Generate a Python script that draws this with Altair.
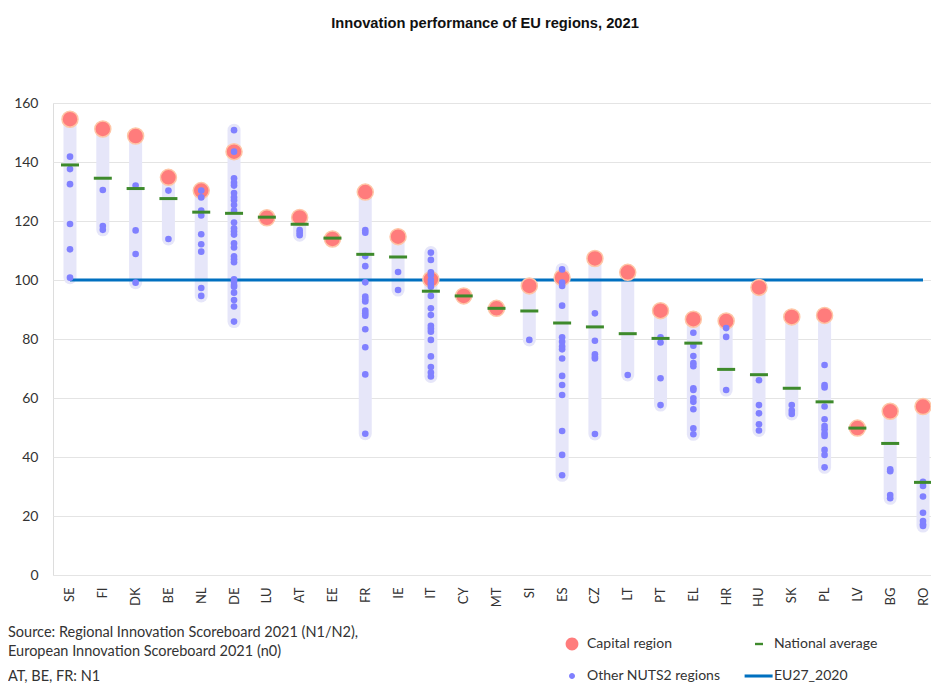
import altair as alt
import pandas as pd

countries = ["SE", "FI", "DK", "BE", "NL", "DE", "LU", "AT", "EE", "FR", "IE", "IT", "CY", "MT",
             "SI", "ES", "CZ", "LT", "PT", "EL", "HR", "HU", "SK", "PL", "LV", "BG", "RO"]

capital = [154.5, 151.2, 148.8, 134.8, 130.3, 143.5, 121.1, 121.2, 113.9, 129.8, 114.7, 100.2, 94.6, 90.4,
           98.0, 100.8, 107.3, 102.6, 89.6, 86.7, 86.1, 97.5, 87.5, 88.0, 49.8, 55.5, 57.1]

national_avg = [139.0, 134.5, 131.0, 127.6, 123.0, 122.6, 121.3, 118.9, 114.2, 108.7, 107.8, 96.2, 94.6, 90.4,
                89.5, 85.4, 84.1, 81.8, 80.2, 78.6, 69.7, 67.9, 63.3, 58.7, 49.8, 44.6, 31.4]

other_SE = [141.8, 137.6, 132.5, 119.0, 110.4, 100.8]
other_FI = [130.5, 118.3, 117.0]
other_DK = [132.0, 116.8, 108.8, 99.1]
other_BE = [130.3, 113.9]
other_NL = [130.3, 128.0, 123.5, 121.9, 115.5, 112.1, 109.6, 97.3, 94.6]
other_DE = [150.8, 143.5, 134.5, 133.0, 132.0, 129.5, 128.0, 127.0, 125.4, 123.5, 119.5, 117.5, 116.4,
            115.4, 112.4, 111.0, 108.0, 107.0, 106.0, 100.2, 99.4, 98.3, 97.7, 95.7, 93.2, 91.0, 85.9]
other_LU = []
other_AT = [116.9, 116.0, 115.2]
other_EE = []
other_FR = [116.9, 116.0, 108.1, 104.7, 99.2, 94.4, 93.5, 92.7, 89.6, 88.7, 87.9, 83.3, 77.2, 68.0, 47.9]
other_IE = [102.7, 96.6]
other_IT = [109.3, 106.8, 102.6, 101.7, 100.0, 98.8, 97.7, 94.6, 90.4, 88.1, 84.5, 83.5, 82.5, 79.7,
            74.1, 70.5, 68.6, 67.3]
other_CY = []
other_MT = []
other_SI = [79.7]
other_ES = [103.6, 99.1, 98.0, 91.3, 80.6, 79.1, 77.5, 76.5, 73.4, 67.5, 64.4, 61.0, 48.8, 40.7, 33.8]
other_CZ = [88.7, 79.4, 74.8, 74.0, 73.4, 47.8]
other_LT = [67.8]
other_PT = [80.6, 78.8, 66.7, 57.6]
other_EL = [82.1, 77.7, 74.2, 71.8, 70.8, 63.3, 62.7, 59.9, 58.7, 56.2, 49.7, 47.7]
other_HR = [83.7, 80.7, 62.7]
other_HU = [66.0, 57.6, 54.8, 51.1, 49.0]
other_SK = [57.6, 55.7, 54.6]
other_PL = [71.2, 64.4, 63.6, 57.1, 52.8, 50.5, 49.4, 48.0, 47.1, 42.4, 40.7, 36.5]
other_LV = []
other_BG = [35.8, 35.2, 27.1, 26.0]
other_RO = [31.6, 30.2, 26.6, 21.1, 18.3, 17.2, 16.6]

eu_level = [100]

y_ticks = [0, 20, 40, 60, 80, 100, 120, 140, 160]

# column-major legend order: col 1 = Capital / Other, col 2 = National / EU
legend_labels = ["Capital region", "Other NUTS2 regions", "National average", "EU27_2020"]
legend_colors = ["#FF7C7C", "#8080FF", "#3E8A2C", "#0070C0"]
legend_shapes = [
    "M-1.6,0A1.6,1.6,0,1,0,1.6,0A1.6,1.6,0,1,0,-1.6,0Z",
    "M-0.75,0A0.75,0.75,0,1,0,0.75,0A0.75,0.75,0,1,0,-0.75,0Z",
    "M-1,-0.3H1V0.3H-1Z",
    "M-3.6,-0.38H3.4V0.38H-3.6Z",
]

source_lines = ["Source: Regional Innovation Scoreboard 2021 (N1/N2),",
                "European Innovation Scoreboard 2021 (n0)",
                "AT, BE, FR: N1"]

title_text = "Innovation performance of EU regions, 2021"

others = {
    "SE": other_SE, "FI": other_FI, "DK": other_DK, "BE": other_BE, "NL": other_NL, "DE": other_DE,
    "LU": other_LU, "AT": other_AT, "EE": other_EE, "FR": other_FR, "IE": other_IE, "IT": other_IT,
    "CY": other_CY, "MT": other_MT, "SI": other_SI, "ES": other_ES, "CZ": other_CZ, "LT": other_LT,
    "PT": other_PT, "EL": other_EL, "HR": other_HR, "HU": other_HU, "SK": other_SK, "PL": other_PL,
    "LV": other_LV, "BG": other_BG, "RO": other_RO,
}

rows = []
for c, v in zip(countries, capital):
    rows.append({"country": c, "value": v, "kind": "capital"})
for c, v in zip(countries, national_avg):
    rows.append({"country": c, "value": v, "kind": "avg"})
for c in countries:
    for v in others[c]:
        rows.append({"country": c, "value": v, "kind": "other"})
df = pd.DataFrame(rows)

FONT = "Lato"
TXT = "#333333"

x_scale = alt.Scale(domain=countries, type="point", padding=0.381, align=0.68)
y_scale = alt.Scale(domain=[0, 160], nice=False)

x_axis = alt.Axis(title=None, labelAngle=-90, domain=False, ticks=False, grid=False,
                  labelPadding=12, labelFont=FONT, labelFontSize=13, labelColor=TXT)
y_axis = alt.Axis(title=None, values=y_ticks, domain=False, ticks=False, grid=True,
                  gridColor="#E4E4E4", gridWidth=1, labelPadding=15, labelFont=FONT,
                  labelFontSize=14, labelColor=TXT)

X = alt.X("country:N", scale=x_scale, sort=countries, axis=x_axis)

base = alt.Chart(df)

bands = base.transform_filter("datum.kind != 'avg'").mark_rule(
    strokeWidth=13, strokeCap="round", color="#E6E6F9"
).encode(
    x=X,
    y=alt.Y("min(value):Q", scale=y_scale, axis=y_axis),
    y2=alt.Y2("max(value):Q"),
)

eu_line = alt.Chart(pd.DataFrame({"v": eu_level})).mark_rule(
    color="#0070C0", strokeWidth=3
).encode(
    x=alt.datum(countries[0]),
    x2=alt.datum(countries[-1]),
    y=alt.Y("v:Q", scale=y_scale),
)

cap_pts = base.transform_filter("datum.kind == 'capital'").mark_point(
    filled=True, size=256, color="#FF7C7C", stroke="#FFC6A6", strokeWidth=1.5, opacity=1
).encode(x=X, y=alt.Y("value:Q", scale=y_scale))

other_pts = base.transform_filter("datum.kind == 'other'").mark_point(
    filled=True, size=44, color="#8080FF", opacity=1
).encode(x=X, y=alt.Y("value:Q", scale=y_scale))

avg_ticks = base.transform_filter("datum.kind == 'avg'").mark_tick(
    color="#3E8A2C", size=18, thickness=3, opacity=1
).encode(x=X, y=alt.Y("value:Q", scale=y_scale))

leg = alt.Legend(title=None, orient="none", legendX=512, legendY=534, columns=2,
                 columnPadding=23, rowPadding=18, labelFont=FONT, labelFontSize=14,
                 labelColor=TXT, labelOffset=8, symbolOpacity=1, symbolSize=64,
                 symbolStrokeWidth=0, padding=0)

legend_layer = alt.Chart(pd.DataFrame({"series": legend_labels})).mark_point(
    filled=True, size=64, opacity=0
).encode(
    color=alt.Color("series:N", scale=alt.Scale(domain=legend_labels, range=legend_colors), legend=leg),
    shape=alt.Shape("series:N", scale=alt.Scale(domain=legend_labels, range=legend_shapes), legend=leg),
)

src_y = [530, 549, 574]
src_layers = []
for line, yy in zip(source_lines, src_y):
    src_layers.append(
        alt.Chart(pd.DataFrame({"t": [line]})).mark_text(
            align="left", baseline="middle", font=FONT, fontSize=14.5, color=TXT
        ).encode(text="t:N", x=alt.value(-45), y=alt.value(yy))
    )

chart = alt.layer(bands, eu_line, cap_pts, other_pts, avg_ticks, legend_layer, *src_layers).properties(
    width=878,
    height=472,
    autosize=alt.AutoSizeParams(type="none"),
    padding={"left": 45, "top": 95, "right": 0, "bottom": 110},
    title=alt.TitleParams(title_text, font="Liberation Sans", fontSize=14.7, fontWeight="bold",
                          color="#111111", offset=65, dx=-7, anchor="middle"),
).configure_view(stroke=None).configure(background="white")

chart.save("out.html", embed_options={"renderer": "svg", "actions": False})
